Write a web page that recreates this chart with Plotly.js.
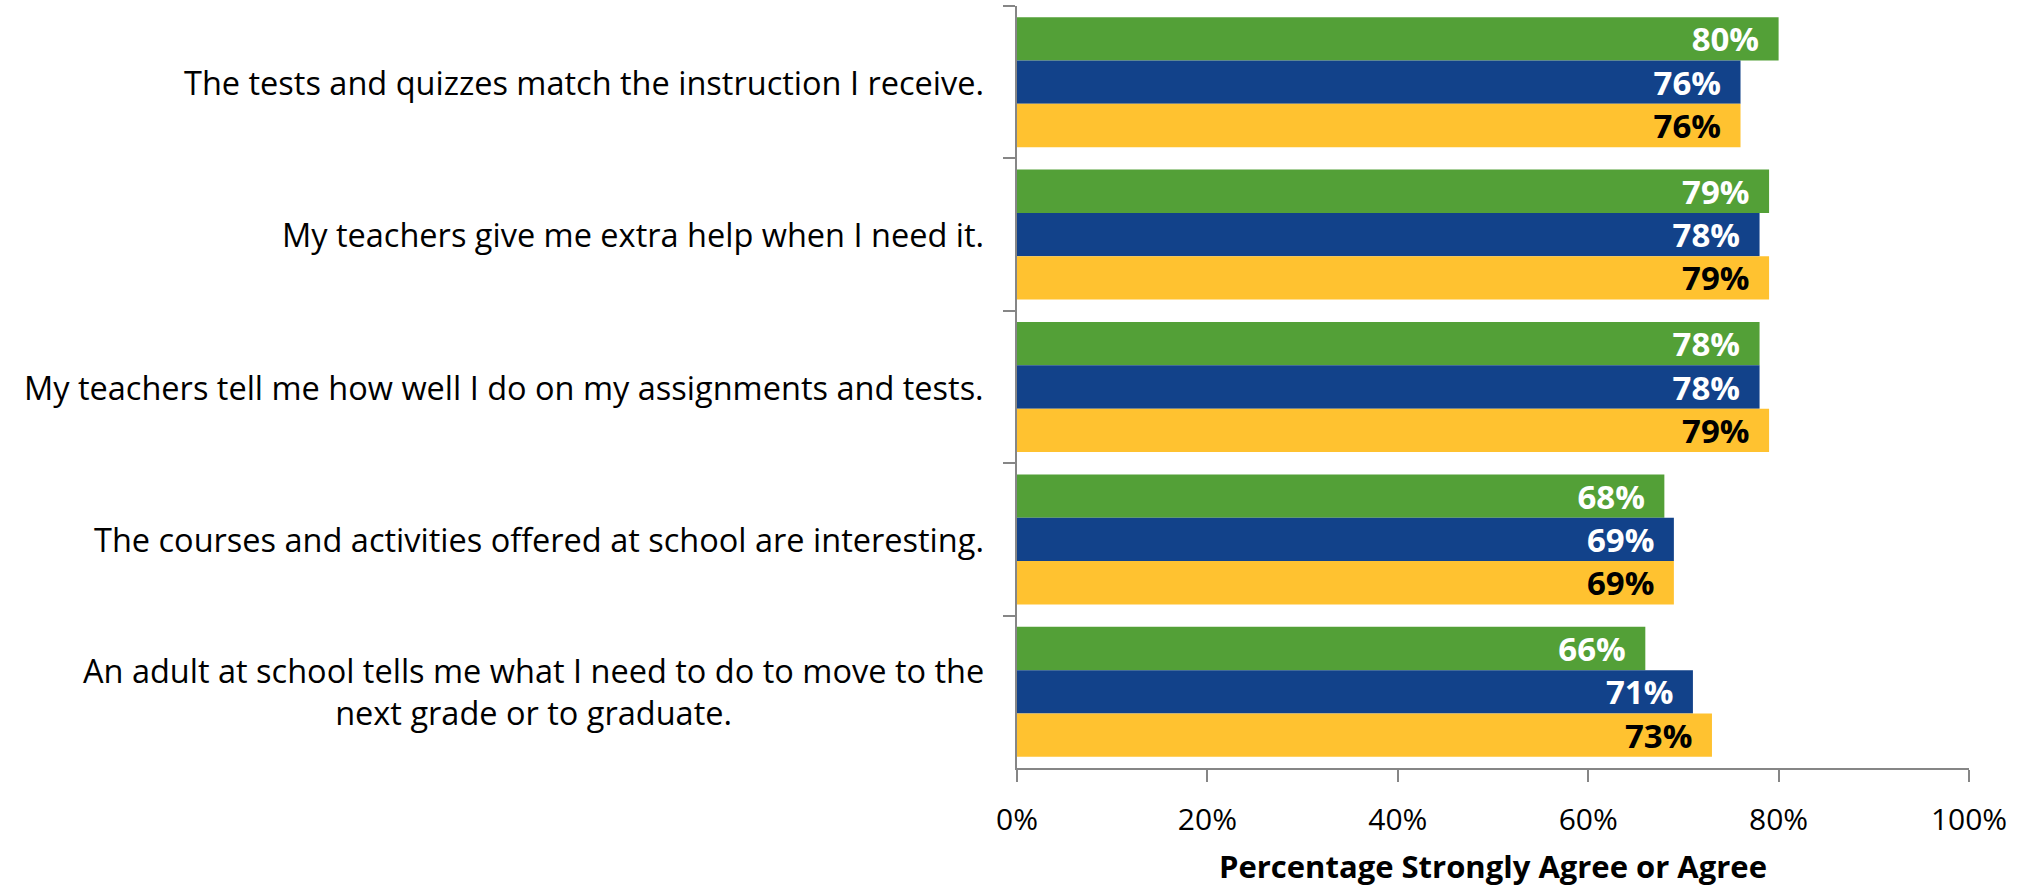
<!DOCTYPE html>
<html>
<head>
<meta charset="utf-8">
<script src="https://cdn.plot.ly/plotly-3.0.1.min.js"></script>
<style>html,body{margin:0;padding:0;background:#fff;}#chart{width:2031px;height:887px;}</style>
</head>
<body>
<div id="chart"></div>
<script>
var categories = [
  "The tests and quizzes match the instruction I receive.",
  "My teachers give me extra help when I need it.",
  "My teachers tell me how well I do on my assignments and tests.",
  "The courses and activities offered at school are interesting.",
  "An adult at school tells me what I need to do to move to the<br>next grade or to graduate."
];
var seriesNames = ["Series 1", "Series 2", "Series 3"];
var series1 = [80, 79, 78, 68, 66];
var series2 = [76, 78, 78, 69, 71];
var series3 = [76, 79, 79, 69, 73];
var tickVals = [0, 20, 40, 60, 80, 100];
var tickText = ["0%", "20%", "40%", "60%", "80%", "100%"];
var axisTitle = "Percentage Strongly Agree or Agree";

var colors = ["#53A037", "#12428A", "#FFC230"];
var textColors = ["#FFFFFF", "#FFFFFF", "#000000"];
var allSeries = [series1, series2, series3];

var traces = allSeries.map(function (vals, i) {
  return {
    type: "bar",
    orientation: "h",
    name: seriesNames[i],
    x: vals,
    y: categories,
    marker: { color: colors[i], line: { width: 0 } },
    text: vals.map(function (v) { return v + "%\u2002"; }),
    textposition: "inside",
    insidetextanchor: "end",
    constraintext: "none",
    textfont: { family: "Open Sans", size: 33, color: textColors[i], weight: "bold" },
    hoverinfo: "x+y"
  };
});

var annotations = categories.map(function (c) {
  return {
    xref: "paper", yref: "y",
    x: -0.033, y: c,
    xanchor: "right", yanchor: "middle",
    align: "center",
    text: c,
    showarrow: false,
    font: { family: "Open Sans", size: 32.5, color: "#000000" }
  };
});

var layout = {
  width: 2031, height: 887,
  margin: { l: 1017, r: 62, t: 6, b: 119, pad: 0 },
  paper_bgcolor: "#ffffff", plot_bgcolor: "#ffffff",
  barmode: "group", bargap: 0.147, bargroupgap: 0,
  showlegend: false,
  font: { family: "Open Sans", color: "#000000" },
  xaxis: {
    range: [0, 100], tickvals: tickVals, ticktext: tickText,
    showgrid: false, zeroline: false,
    showline: true, linecolor: "#868686", linewidth: 2,
    ticks: "outside", ticklen: 12, tickwidth: 2, tickcolor: "#868686",
    ticklabelstandoff: 12,
    tickfont: { family: "Open Sans", size: 30, color: "#000000" },
    title: { text: axisTitle, font: { family: "Open Sans", size: 31, color: "#000000", weight: "bold" }, standoff: 20 }
  },
  yaxis: {
    type: "category", autorange: "reversed",
    showgrid: false, zeroline: false,
    showline: true, linecolor: "#868686", linewidth: 2,
    ticks: "outside", ticklen: 12, tickwidth: 2, tickcolor: "#868686",
    tickson: "boundaries",
    showticklabels: false
  },
  annotations: annotations
};

Plotly.newPlot("chart", traces, layout, { displayModeBar: false, staticPlot: true });
</script>
</body>
</html>
